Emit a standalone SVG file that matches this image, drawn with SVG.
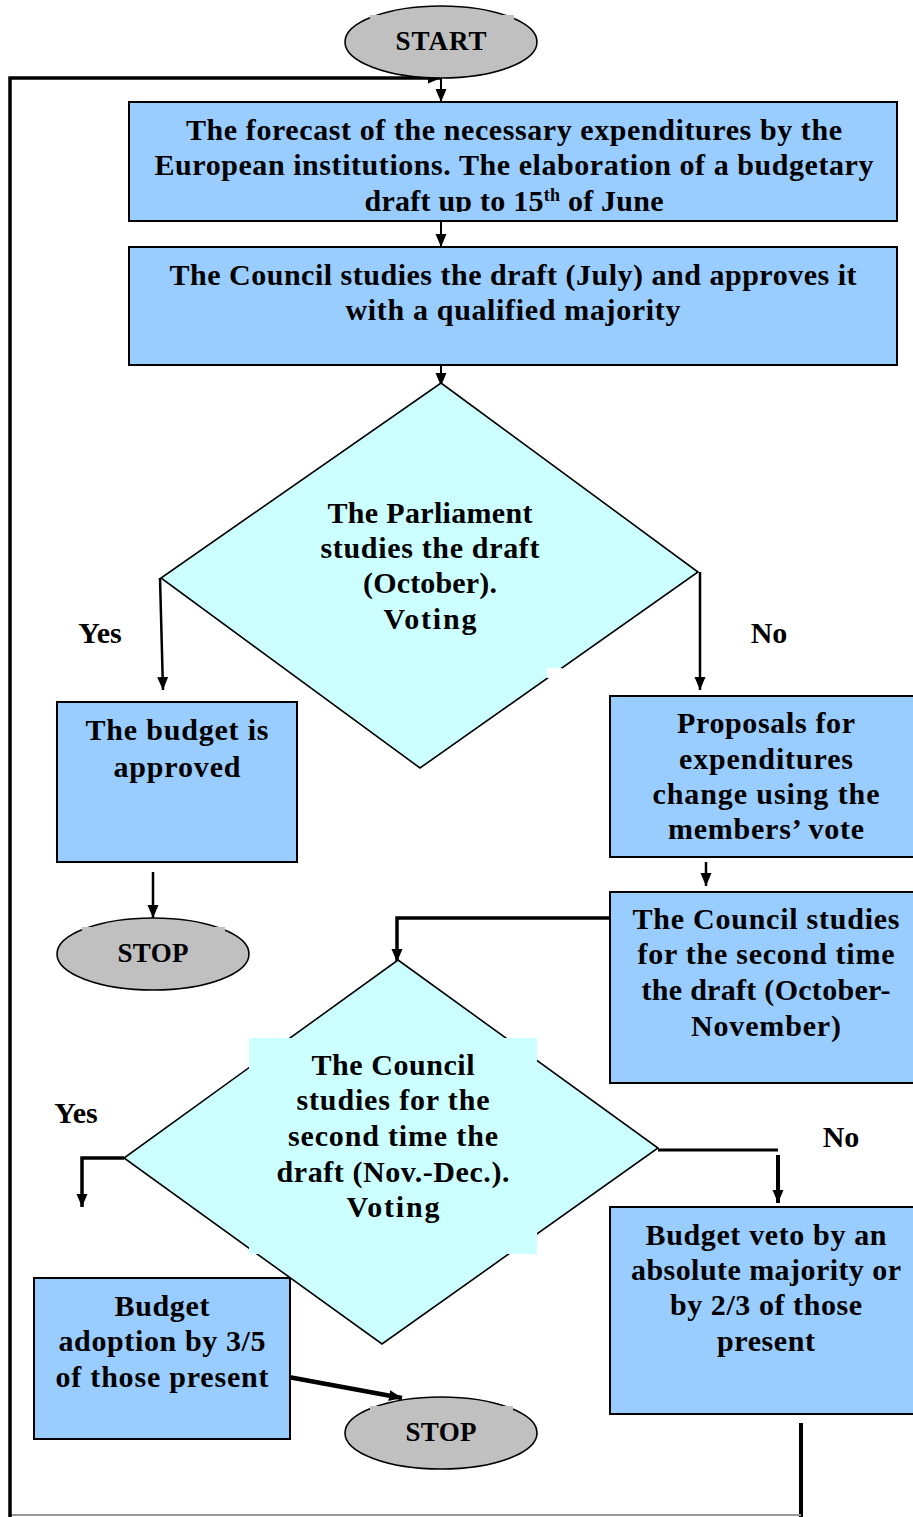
<svg xmlns="http://www.w3.org/2000/svg" width="913" height="1517" viewBox="0 0 913 1517">
<style>
.box{fill:#99ccff;stroke:#000;stroke-width:2}
.dia{fill:#ccffff;stroke:#000;stroke-width:1.6}
.ell{fill:#c0c0c0;stroke:#000;stroke-width:1.6}
.t{font-family:"Liberation Serif","Times New Roman",serif;font-weight:bold;font-size:30px;fill:#000;text-anchor:middle}
.ts{font-family:"Liberation Serif","Times New Roman",serif;font-weight:bold;font-size:27px;fill:#000;text-anchor:middle}
.c{fill:none;stroke:#000}
</style>
<defs>
<marker id="ah" markerUnits="userSpaceOnUse" markerWidth="14" markerHeight="14" viewBox="0 0 14 14" refX="13" refY="7" orient="auto">
<path d="M0,1.5 L13,7 L0,12.5 Z" fill="#000"/>
</marker>
<clipPath id="clip1"><rect x="129" y="102" width="769" height="110"/></clipPath>
</defs>

<g id="connectors">
<path class="c" d="M801,1423 V1517" stroke-width="4"/>
<path d="M10,1515 H801" fill="none" stroke="#999" stroke-width="2"/>
<path class="c" d="M10,1517 V78 H441" stroke-width="3.5" marker-end="url(#ah)"/>
<path class="c" d="M441,78 V102" stroke-width="2" marker-end="url(#ah)"/>
<path class="c" d="M441,221 V247" stroke-width="2" marker-end="url(#ah)"/>
<path class="c" d="M441,365 V386" stroke-width="2" marker-end="url(#ah)"/>
<path class="c" d="M160,578 L163,690" stroke-width="2.5" marker-end="url(#ah)"/>
<path class="c" d="M700,572 V690" stroke-width="2.5" marker-end="url(#ah)"/>
<path class="c" d="M153,872 V918" stroke-width="2.5" marker-end="url(#ah)"/>
<path class="c" d="M706,862 V886" stroke-width="2.5" marker-end="url(#ah)"/>
<path class="c" d="M610,918 H397 V962" stroke-width="3.5" marker-end="url(#ah)"/>
<path class="c" d="M124,1158 H82 V1207" stroke-width="3.5" marker-end="url(#ah)"/>
<path class="c" d="M658,1150 H778" stroke-width="3"/>
<path class="c" d="M778,1155 V1203" stroke-width="4" marker-end="url(#ah)"/>
<path class="c" d="M283,1376 L402,1398" stroke-width="4.5" marker-end="url(#ah)"/>
</g>

<g id="start">
<ellipse class="ell" cx="441" cy="42" rx="96" ry="36"/>
<rect x="370" y="15" width="144" height="30" fill="#c0c0c0"/>
<text class="ts" x="441" y="50" textLength="91">START</text>
</g>

<g id="forecast">
<rect class="box" x="129" y="102" width="768" height="119"/>
<g clip-path="url(#clip1)">
<text class="t" x="514" y="140" textLength="656">The forecast of the necessary expenditures by the</text>
<text class="t" x="514" y="175" textLength="719">European institutions. The elaboration of a budgetary</text>
<text class="t" x="514" y="210.5" textLength="299">draft up to 15<tspan font-size="18" dy="-10">th</tspan><tspan dy="10"> of June</tspan></text>
</g>
</g>

<g id="council1">
<rect class="box" x="129" y="247" width="768" height="118"/>
<text class="t" x="513" y="285" textLength="687">The Council studies the draft (July) and approves it</text>
<text class="t" x="513" y="320" textLength="335">with a qualified majority</text>
</g>

<g id="parliament">
<polygon class="dia" points="441,383 698,572 420,768 161,578"/>
<rect x="547" y="668" width="15" height="10" fill="#fff"/>
<text class="t" x="430" y="523" textLength="205">The Parliament</text>
<text class="t" x="430" y="558" textLength="219">studies the draft</text>
<text class="t" x="430" y="593" textLength="134">(October).</text>
<text class="t" x="430" y="629" textLength="93">Voting</text>
</g>

<g id="labels1">
<text class="t" x="100" y="643">Yes</text>
<text class="t" x="769" y="643">No</text>
</g>

<g id="approved">
<rect class="box" x="57" y="702" width="240" height="160"/>
<text class="t" x="177" y="740" textLength="183">The budget is</text>
<text class="t" x="177" y="777" textLength="127">approved</text>
</g>

<g id="proposals">
<rect class="box" x="610" y="696" width="310" height="161"/>
<text class="t" x="766" y="733" textLength="178">Proposals for</text>
<text class="t" x="766" y="769" textLength="174">expenditures</text>
<text class="t" x="766" y="804" textLength="227">change using the</text>
<text class="t" x="766" y="839" textLength="196">members’ vote</text>
</g>

<g id="stop1">
<ellipse class="ell" cx="153" cy="954" rx="96" ry="36"/>
<rect x="82" y="927" width="143" height="30" fill="#c0c0c0"/>
<text class="ts" x="153" y="962" textLength="71">STOP</text>
</g>

<g id="council2">
<rect class="box" x="610" y="892" width="310" height="191"/>
<text class="t" x="766" y="929" textLength="267">The Council studies</text>
<text class="t" x="766" y="964" textLength="257">for the second time</text>
<text class="t" x="766" y="1000" textLength="249">the draft (October-</text>
<text class="t" x="766" y="1036" textLength="150">November)</text>
</g>

<g id="council3">
<polygon class="dia" points="398,960 658,1148 382,1344 124,1158"/>
<rect x="249" y="1038" width="288" height="216" fill="#ccffff"/>
<text class="t" x="393" y="1075" textLength="163">The Council</text>
<text class="t" x="393" y="1110" textLength="193">studies for the</text>
<text class="t" x="393" y="1146" textLength="210">second time the</text>
<text class="t" x="393" y="1182" textLength="233">draft (Nov.-Dec.).</text>
<text class="t" x="393" y="1217" textLength="93">Voting</text>
</g>

<g id="labels2">
<text class="t" x="76" y="1123">Yes</text>
<text class="t" x="841" y="1147">No</text>
</g>

<g id="adoption">
<rect class="box" x="34" y="1278" width="256" height="161"/>
<text class="t" x="162" y="1316" textLength="95">Budget</text>
<text class="t" x="162" y="1351" textLength="207">adoption by 3/5</text>
<text class="t" x="162" y="1387" textLength="213">of those present</text>
</g>

<g id="stop2">
<ellipse class="ell" cx="441" cy="1433" rx="96" ry="36"/>
<rect x="370" y="1406" width="143" height="30" fill="#c0c0c0"/>
<text class="ts" x="441" y="1441" textLength="71">STOP</text>
</g>

<g id="veto">
<rect class="box" x="610" y="1207" width="310" height="207"/>
<text class="t" x="766" y="1245" textLength="241">Budget veto by an</text>
<text class="t" x="766" y="1280" textLength="270">absolute majority or</text>
<text class="t" x="766" y="1315" textLength="192">by 2/3 of those</text>
<text class="t" x="766" y="1351" textLength="98">present</text>
</g>
</svg>
